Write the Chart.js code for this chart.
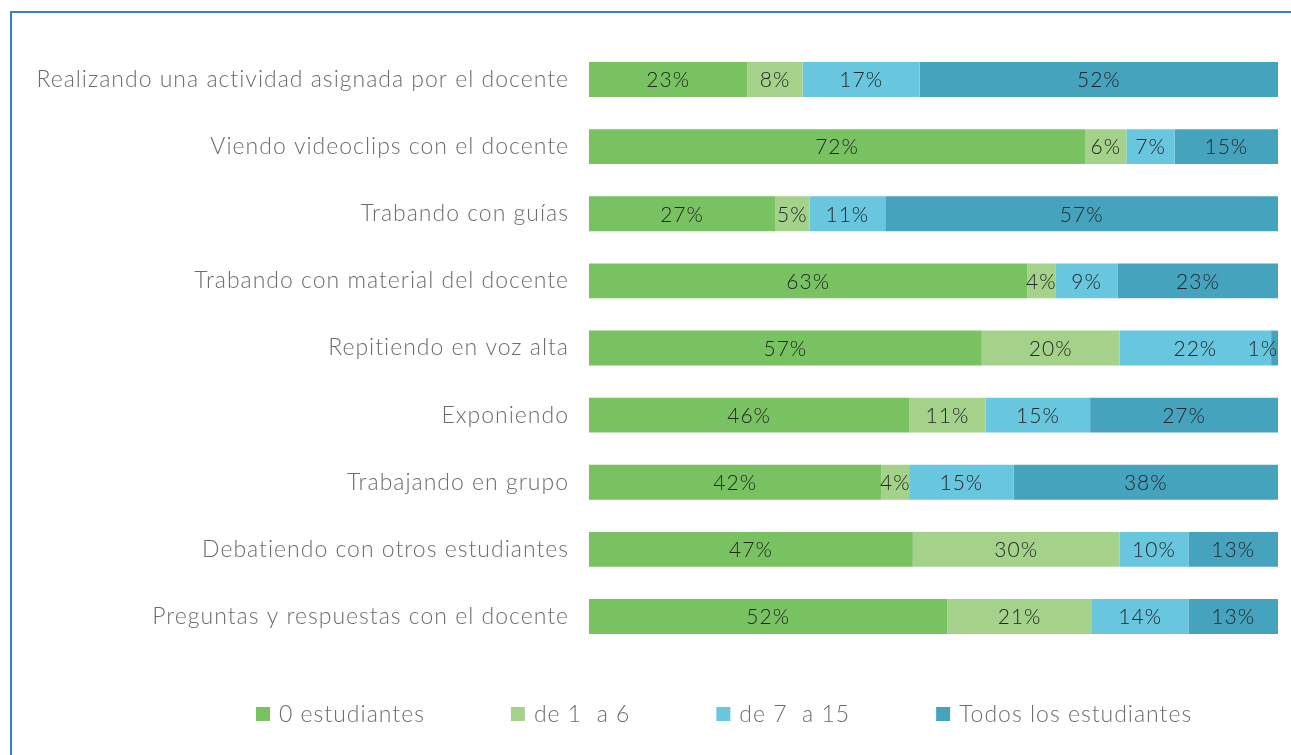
<!DOCTYPE html>
<html>
<head>
<meta charset="utf-8">
<script src="https://cdn.jsdelivr.net/npm/chart.js@4"></script>
<style>
  html, body { margin: 0; padding: 0; background: #fff; overflow: hidden; }
  #frame {
    position: absolute; left: 10px; top: 11px;
    width: 1300px; height: 760px;
    border: 2px solid #3b80c6;
  }
  #chart { position: absolute; left: 0; top: 0; }
</style>
</head>
<body>
<div id="frame"></div>
<canvas id="chart" width="1291" height="755"></canvas>
<script>
// categories (top to bottom)
const categories = [
    "Realizando una actividad asignada por el docente",
    "Viendo videoclips con el docente",
    "Trabando con guías",
    "Trabando con material del docente",
    "Repitiendo en voz alta",
    "Exponiendo",
    "Trabajando en grupo",
    "Debatiendo con otros estudiantes",
    "Preguntas y respuestas con el docente"
];

const seriesNames = ["0 estudiantes", "de 1  a 6", "de 7  a 15", "Todos los estudiantes"];

// percentages as shown in the picture
const ceroEstudiantes = [23, 72, 27, 63, 57, 46, 42, 47, 52];
const deUnoASeis     = [8, 6, 5, 4, 20, 11, 4, 30, 21];
const deSieteAQuince = [17, 7, 11, 9, 22, 15, 15, 10, 14];
const todosEstudiantes = [52, 15, 57, 23, 1, 27, 38, 13, 13];

const colors = ["#78c261", "#a4d28b", "#68c6df", "#45a3bd"];

const raw = [ceroEstudiantes, deUnoASeis, deSieteAQuince, todosEstudiantes];

const FONT = "Lato, 'Open Sans', sans-serif";
const SPACING = "1px";

// every bar is a full 100% stack
const totals =
    categories.map((c, i) =>
        raw.reduce((s, arr) => s + arr[i], 0)
    );

const spacingPlugin = {
    id: "spacing",
    beforeDraw(chart) {
        chart.ctx.letterSpacing = SPACING;
    }
};

const labelPlugin = {
    id: "segLabels",
    afterDatasetsDraw(chart) {
        const ctx = chart.ctx;
        const area = chart.chartArea;
        ctx.save();
        ctx.font = "300 21px " + FONT;
        ctx.fillStyle = "#262626";
        ctx.textAlign = "center";
        ctx.textBaseline = "middle";
        chart.data.datasets.forEach((ds, di) => {
            const meta = chart.getDatasetMeta(di);
            meta.data.forEach((el, i) => {
                const txt = raw[di][i] + "%";
                const w = ctx.measureText(txt).width;
                let cx = (el.x + el.base) / 2;
                if (cx + w / 2 > area.right) cx = area.right - w / 2;
                ctx.fillText(txt, cx, el.y + 1);
            });
        });
        ctx.restore();
    }
};

// legend drawn below the plot, one row
const legendPlugin = {
    id: "bottomLegend",
    afterDraw(chart) {
        const ctx = chart.ctx;
        ctx.save();
        ctx.font = "300 23px " + FONT;
        ctx.textBaseline = "middle";
        ctx.textAlign = "left";
        let x = 256;
        const y = 714;
        chart.data.datasets.forEach((ds) => {
            ctx.fillStyle = ds.backgroundColor;
            ctx.fillRect(x, y - 7, 14, 14);
            ctx.fillStyle = "#6c6c6c";
            ctx.fillText(ds.label, x + 23, y + 1);
            x += 23 + ctx.measureText(ds.label).width + 86;
        });
        ctx.restore();
    }
};

const ctx = document.getElementById("chart").getContext("2d");

new Chart(ctx, {
    type: "bar",
    data: {
        labels: categories,
        datasets: raw.map((arr, di) => ({
            label: seriesNames[di],
            data: arr.map((v, i) => v / totals[i] * 100),
            backgroundColor: colors[di],
            borderWidth: 0,
            barPercentage: 0.52,
            categoryPercentage: 1
        }))
    },
    options: {
        indexAxis: "y",
        responsive: false,
        animation: false,
        layout: {
            padding: { top: 46, right: 13, bottom: 105, left: 0 }
        },
        plugins: {
            legend: { display: false },
            tooltip: { enabled: false }
        },
        scales: {
            x: {
                stacked: true,
                min: 0,
                max: 100,
                display: false
            },
            y: {
                stacked: true,
                grid: { display: false },
                border: { display: false },
                ticks: {
                    color: "#6c6c6c",
                    padding: 12,
                    font: { family: FONT, size: 23, weight: "300" }
                },
                afterFit(scale) {
                    scale.width = 589;
                }
            }
        }
    },
    plugins: [spacingPlugin, labelPlugin, legendPlugin]
});
</script>
</body>
</html>
